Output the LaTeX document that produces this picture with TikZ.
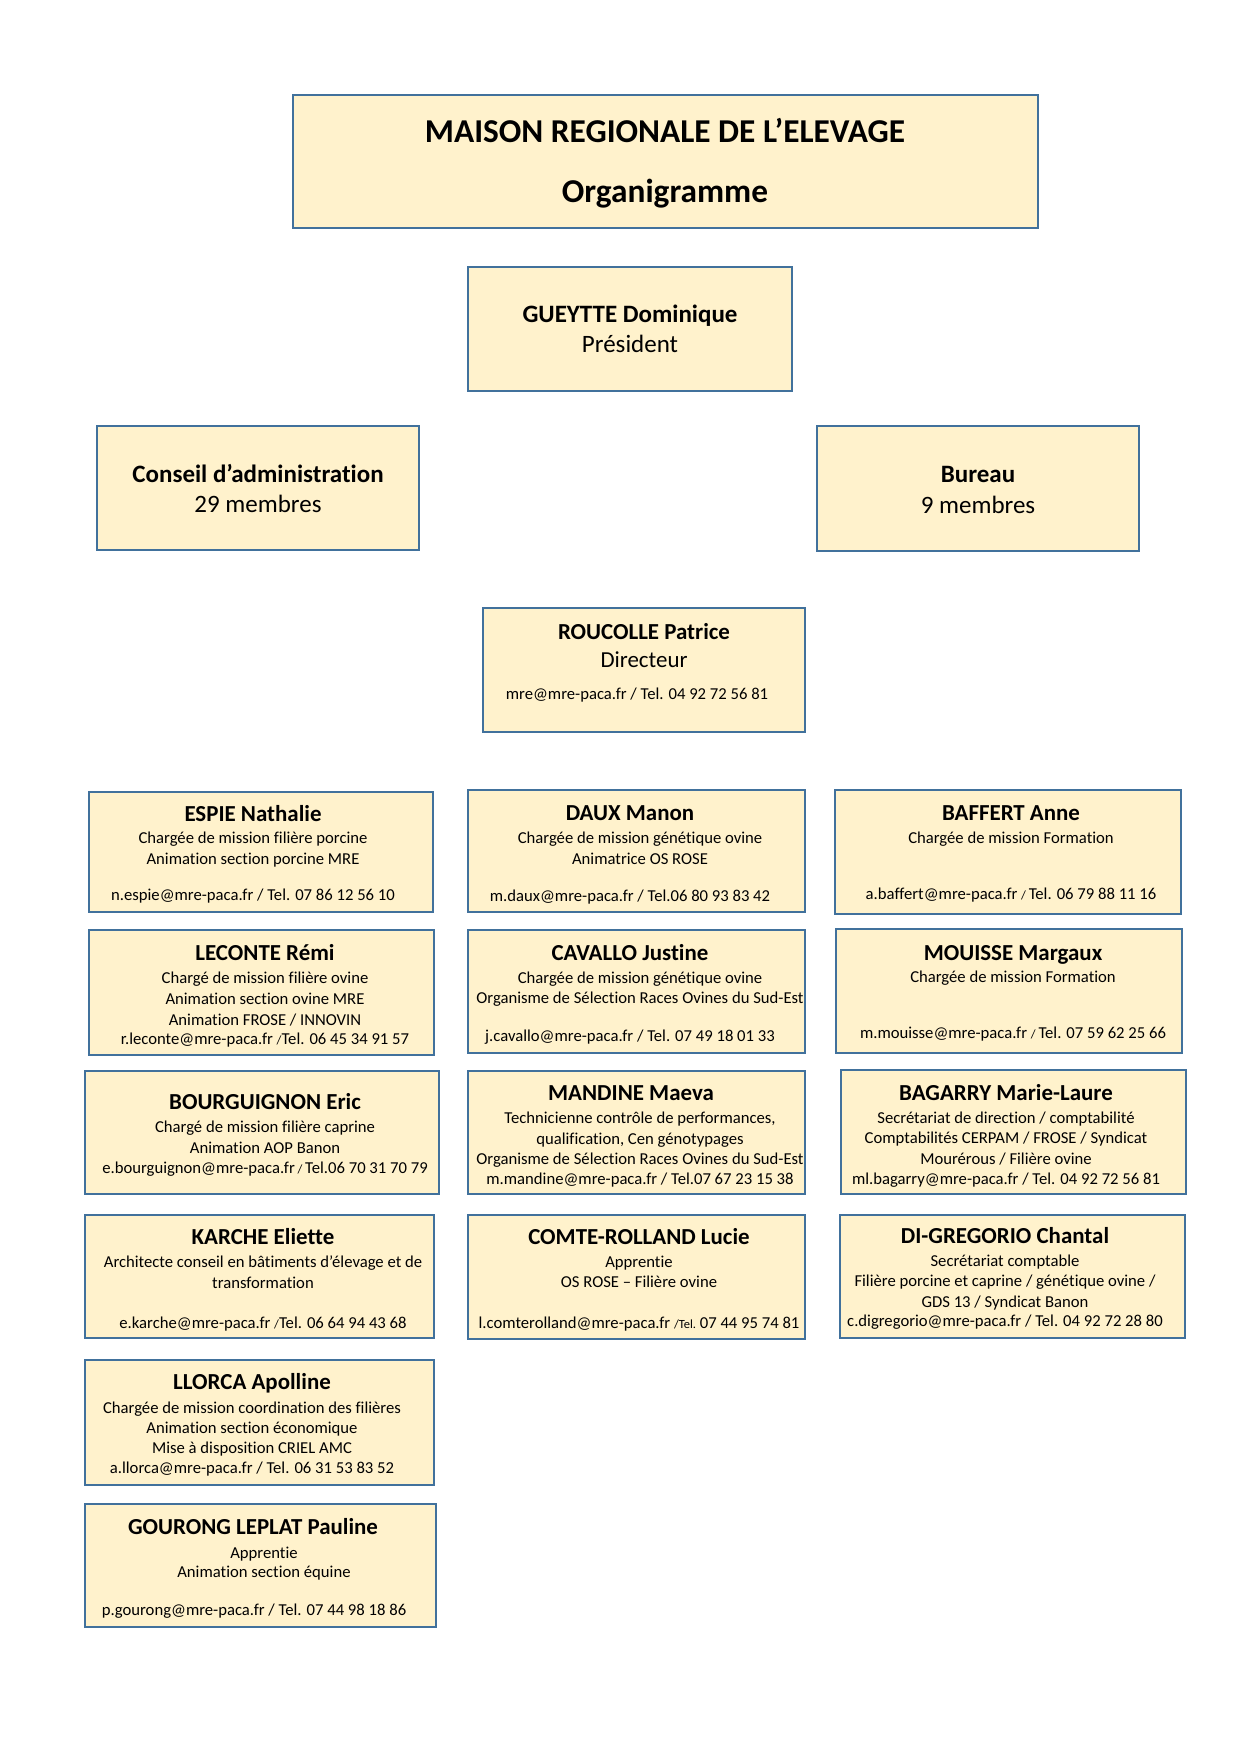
\documentclass[tikz,border=0pt]{standalone}
\usepackage{fontspec}
\setmainfont[Ligatures=CommonOff]{Carlito}
\usetikzlibrary{fit}
\definecolor{cardfill}{HTML}{FFF2CC}
\definecolor{cardline}{HTML}{41719C}
\newcommand{\smsl}{{\fontsize{6}{7}\selectfont/}}
\newcommand{\smtel}{{\fontsize{6}{7}\selectfont Tel.}}
\tikzset{
  card/.style={draw=cardline, fill=cardfill, line width=1.1pt, inner sep=0pt},
  ttl/.style={font=\fontsize{16}{19.5}\selectfont\bfseries, anchor=base, inner sep=0pt},
  hd/.style={font=\fontsize{12}{14.6}\selectfont\bfseries, anchor=base, inner sep=0pt},
  hdr/.style={font=\fontsize{12}{14.6}\selectfont, anchor=base, inner sep=0pt},
  nm/.style={font=\fontsize{11}{13.4}\selectfont\bfseries, anchor=base, inner sep=0pt},
  nmr/.style={font=\fontsize{11}{13.4}\selectfont, anchor=base, inner sep=0pt},
  tx/.style={font=\fontsize{8}{9.8}\selectfont, anchor=base, inner sep=0pt},
}
\begin{document}
\begin{tikzpicture}[x=0.48006pt, y=-0.48006pt]
\useasboundingbox[fill=white] (0,0) rectangle (1240,1754);

% header boxes
\node[card, fit={(293,95) (1038,228)}] (title) {};
\node[ttl] (title-1) at (665,143) {MAISON REGIONALE DE L’ELEVAGE};
\node[ttl] (title-2) at (665,203) {Organigramme};

\node[card, fit={(468,267) (792,391)}] (pres) {};
\node[hd] (pres-1) at (630,323) {GUEYTTE Dominique};
\node[hdr] (pres-2) at (630,353) {Président};

\node[card, fit={(97,426) (419,550)}] (conseil) {};
\node[hd] (conseil-1) at (258,482) {Conseil d’administration};
\node[hdr] (conseil-2) at (258,512) {29 membres};

\node[card, fit={(817,426) (1139,551)}] (bureau) {};
\node[hd] (bureau-1) at (978,482) {Bureau};
\node[hdr] (bureau-2) at (978,513) {9 membres};

\node[card, fit={(483,608) (805,732)}] (dir) {};
\node[nm] (dir-1) at (644,639) {ROUCOLLE Patrice};
\node[nmr] (dir-2) at (644,667) {Directeur};
\node[tx] (dir-3) at (637,699) {mre@mre-paca.fr / Tel. 04 92 72 56 81};

% row 1
\node[card, fit={(89,792) (433,912)}] (espie) {};
\node[nm] (espie-1) at (253,821) {ESPIE Nathalie};
\node[tx] (espie-2) at (253,843) {Chargée de mission filière porcine};
\node[tx] (espie-3) at (253,864) {Animation section porcine MRE};
\node[tx] (espie-4) at (253,900) {n.espie@mre-paca.fr / Tel. 07 86 12 56 10};

\node[card, fit={(468,790) (805,912)}] (daux) {};
\node[nm] (daux-1) at (630,820) {DAUX Manon};
\node[tx] (daux-2) at (640,843) {Chargée de mission génétique ovine};
\node[tx] (daux-3) at (640,864) {Animatrice OS ROSE};
\node[tx] (daux-4) at (630,901) {m.daux@mre-paca.fr / Tel.06 80 93 83 42};

\node[card, fit={(835,790) (1181,914)}] (baffert) {};
\node[nm] (baffert-1) at (1011,820) {BAFFERT Anne};
\node[tx] (baffert-2) at (1011,843) {Chargée de mission Formation};
\node[tx] (baffert-3) at (1011,899) {a.baffert@mre-paca.fr \smsl\,Tel. 06 79 88 11 16};

% row 2
\node[card, fit={(89,930) (434,1055)}] (leconte) {};
\node[nm] (leconte-1) at (265,960) {LECONTE Rémi};
\node[tx] (leconte-2) at (265,983) {Chargé de mission filière ovine};
\node[tx] (leconte-3) at (265,1004) {Animation section ovine MRE};
\node[tx] (leconte-4) at (265,1025) {Animation FROSE / INNOVIN};
\node[tx] (leconte-5) at (265,1044) {r.leconte@mre-paca.fr \smsl Tel. 06 45 34 91 57};

\node[card, fit={(468,930) (805,1053)}] (cavallo) {};
\node[nm] (cavallo-1) at (630,960) {CAVALLO Justine};
\node[tx] (cavallo-2) at (640,983) {Chargée de mission génétique ovine};
\node[tx] (cavallo-3) at (640,1003) {Organisme de Sélection Races Ovines du Sud-Est};
\node[tx] (cavallo-4) at (630,1041) {j.cavallo@mre-paca.fr / Tel. 07 49 18 01 33};

\node[card, fit={(836,929) (1182,1053)}] (mouisse) {};
\node[nm] (mouisse-1) at (1013,960) {MOUISSE Margaux};
\node[tx] (mouisse-2) at (1013,982) {Chargée de mission Formation};
\node[tx] (mouisse-3) at (1013,1038) {m.mouisse@mre-paca.fr \smsl\,Tel. 07 59 62 25 66};

% row 3
\node[card, fit={(85,1071) (439,1194)}] (bourguignon) {};
\node[nm] (bourguignon-1) at (265,1109) {BOURGUIGNON Eric};
\node[tx] (bourguignon-2) at (265,1132) {Chargé de mission filière caprine};
\node[tx] (bourguignon-3) at (265,1153) {Animation AOP Banon};
\node[tx] (bourguignon-4) at (265,1173) {e.bourguignon@mre-paca.fr\,\smsl\,Tel.06 70 31 70 79};

\node[card, fit={(468,1071) (805,1194)}] (mandine) {};
\node[nm] (mandine-1) at (631,1100) {MANDINE Maeva};
\node[tx] (mandine-2) at (640,1123) {Technicienne contrôle de performances,};
\node[tx] (mandine-3) at (640,1144) {qualification, Cen génotypages};
\node[tx] (mandine-4) at (640,1164) {Organisme de Sélection Races Ovines du Sud-Est};
\node[tx] (mandine-5) at (640,1184) {m.mandine@mre-paca.fr / Tel.07 67 23 15 38};

\node[card, fit={(841,1070) (1186,1194)}] (bagarry) {};
\node[nm] (bagarry-1) at (1006,1100) {BAGARRY Marie-Laure};
\node[tx] (bagarry-2) at (1006,1123) {Secrétariat de direction / comptabilité};
\node[tx] (bagarry-3) at (1006,1143) {Comptabilités CERPAM / FROSE / Syndicat};
\node[tx] (bagarry-4) at (1006,1164) {Mourérous / Filière ovine};
\node[tx] (bagarry-5) at (1006,1184) {ml.bagarry@mre-paca.fr / Tel. 04 92 72 56 81};

% row 4
\node[card, fit={(85,1215) (434,1338)}] (karche) {};
\node[nm] (karche-1) at (263,1244) {KARCHE Eliette};
\node[tx] (karche-2) at (263,1267) {Architecte conseil en bâtiments d’élevage et de};
\node[tx] (karche-3) at (263,1288) {transformation};
\node[tx] (karche-4) at (263,1328) {e.karche@mre-paca.fr \smsl Tel. 06 64 94 43 68};

\node[card, fit={(468,1215) (805,1339)}] (comte) {};
\node[nm] (comte-1) at (639,1244) {COMTE-ROLLAND Lucie};
\node[tx] (comte-2) at (639,1267) {Apprentie};
\node[tx] (comte-3) at (639,1287) {OS ROSE – Filière ovine};
\node[tx] (comte-4) at (639,1328) {l.comterolland@mre-paca.fr \smsl\smtel\ 07 44 95 74 81};

\node[card, fit={(840,1215) (1185,1338)}] (digreg) {};
\node[nm] (digreg-1) at (1005,1243) {DI-GREGORIO Chantal};
\node[tx] (digreg-2) at (1005,1266) {Secrétariat comptable};
\node[tx] (digreg-3) at (1005,1286) {Filière porcine et caprine / génétique ovine /};
\node[tx] (digreg-4) at (1005,1307) {GDS 13 / Syndicat Banon};
\node[tx] (digreg-5) at (1005,1326) {c.digregorio@mre-paca.fr / Tel. 04 92 72 28 80};

% row 5
\node[card, fit={(85,1360) (434,1485)}] (llorca) {};
\node[nm] (llorca-1) at (252,1389) {LLORCA Apolline};
\node[tx] (llorca-2) at (252,1413) {Chargée de mission coordination des filières};
\node[tx] (llorca-3) at (252,1433) {Animation section économique};
\node[tx] (llorca-4) at (252,1453) {Mise à disposition CRIEL AMC};
\node[tx] (llorca-5) at (252,1473) {a.llorca@mre-paca.fr / Tel. 06 31 53 83 52};

% row 6
\node[card, fit={(85,1504) (436,1627)}] (gourong) {};
\node[nm] (gourong-1) at (253,1534) {GOURONG LEPLAT Pauline};
\node[tx] (gourong-2) at (264,1558) {Apprentie};
\node[tx] (gourong-3) at (264,1577) {Animation section équine};
\node[tx] (gourong-4) at (254,1615) {p.gourong@mre-paca.fr / Tel. 07 44 98 18 86};
\end{tikzpicture}
\end{document}
